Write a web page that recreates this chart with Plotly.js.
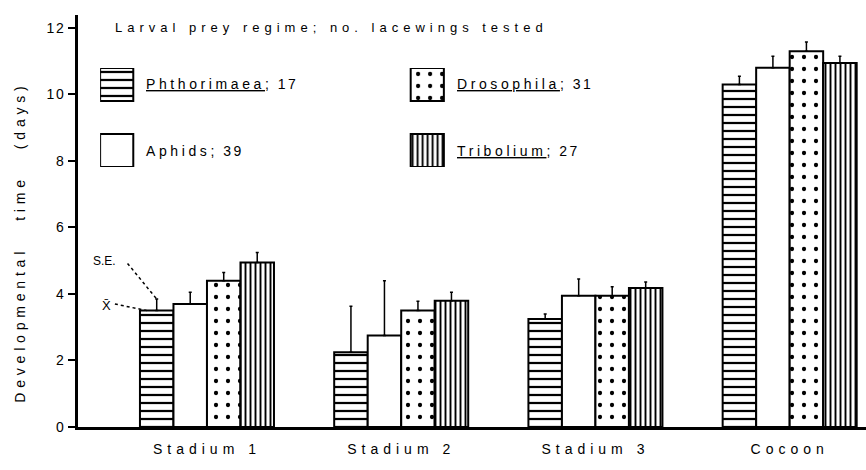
<!DOCTYPE html>
<html>
<head>
<meta charset="utf-8">
<script src="https://cdn.plot.ly/plotly-3.0.1.min.js"></script>
<style>
  html, body { margin: 0; padding: 0; background: #fff; }
  #chart { width: 866px; height: 470px; }
  .xtick text { letter-spacing: 5px; }
  .ytick text { letter-spacing: 1.5px; }
</style>
</head>
<body>
<div id="chart"></div>
<script>
// ---- data ----
const stages = ["Stadium 1", "Stadium 2", "Stadium 3", "Cocoon"];
const preyNames = ["Phthorimaea", "Aphids", "Drosophila", "Tribolium"];
const preyN = [17, 39, 31, 27];
const preyUnderlined = [true, false, true, true];

const meanPhthorimaea = [3.5, 2.25, 3.25, 10.3];
const sePhthorimaea   = [0.35, 1.38, 0.15, 0.25];
const meanAphids      = [3.7, 2.75, 3.95, 10.8];
const seAphids        = [0.35, 1.65, 0.5, 0.35];
const meanDrosophila  = [4.4, 3.5, 3.95, 11.3];
const seDrosophila    = [0.25, 0.28, 0.27, 0.28];
const meanTribolium   = [4.95, 3.8, 4.18, 10.95];
const seTribolium     = [0.3, 0.25, 0.18, 0.2];

const yTickVals = [0, 2, 4, 6, 8, 10, 12];
const titleText = "Larval prey regime; no. lacewings tested";
const yTitleWords = ["Developmental", "time", "(days)"];

// ---- styles ----
const means = [meanPhthorimaea, meanAphids, meanDrosophila, meanTribolium];
const ses = [sePhthorimaea, seAphids, seDrosophila, seTribolium];
const patterns = [
  {shape: "-", size: 8, solidity: 0.28, fgcolor: "#000", bgcolor: "#fff", fillmode: "replace"},
  {shape: "", fgcolor: "#000", bgcolor: "#fff"},
  {shape: ".", size: 12, solidity: 0.1, fgcolor: "#000", bgcolor: "#fff", fillmode: "replace"},
  {shape: "|", size: 5, solidity: 0.38, fgcolor: "#000", bgcolor: "#fff", fillmode: "replace"}
];
const FONT = "Liberation Sans, Arial, Helvetica, sans-serif";
const spaced = (t, px) => '<span style="letter-spacing:' + px + 'px">' + t + '</span>';

const traces = [];
preyNames.forEach((name, i) => {
  traces.push({
    type: "bar",
    name: name,
    x: stages,
    y: means[i],
    marker: {color: "#fff", pattern: patterns[i], line: {color: "#000", width: 2}},
    error_y: {
      type: "data", symmetric: false,
      array: ses[i], arrayminus: ses[i].map(() => 0),
      color: "#000", thickness: 1.5, width: 1.5
    },
    showlegend: false,
    hoverinfo: "skip"
  });
});

// legend swatches drawn as bars on a small helper axis (2 columns x 2 rows)
const swW = 0.1068;
const annotations = [];
preyNames.forEach((name, i) => {
  const col = Math.floor(i / 2);
  const row = i % 2;
  const base = row === 0 ? 2 : 0;
  traces.push({
    type: "bar",
    x: [col], y: [1], base: [base], width: [swW], offset: [-swW / 2],
    xaxis: "x2", yaxis: "y2",
    marker: {color: "#fff", pattern: patterns[i], line: {color: "#000", width: 2}},
    showlegend: false, hoverinfo: "skip"
  });
});

annotations.push({
  xref: "paper", yref: "paper", x: 0.0446, y: 0.969,
  xanchor: "left", yanchor: "middle", showarrow: false,
  text: spaced(titleText, 5), font: {family: FONT, size: 13, color: "#000"}
});
annotations.push({
  xref: "paper", yref: "paper", x: -0.074, y: 0.449,
  xanchor: "center", yanchor: "middle", showarrow: false, textangle: -90,
  text: spaced(yTitleWords.join("\u00a0\u00a0\u00a0"), 4.8),
  font: {family: FONT, size: 14, color: "#000"}
});
preyNames.forEach((name, i) => {
  const col = Math.floor(i / 2);
  const row = i % 2;
  const base = row === 0 ? 2 : 0;
  const label = preyUnderlined[i] ? "<u>" + spaced(name, 3.6) + "</u>" : spaced(name, 3.6);
  annotations.push({
    xref: "x2", yref: "y2", x: col + swW / 2 + 0.036, y: base + 0.5,
    xanchor: "left", yanchor: "middle", showarrow: false,
    text: label + spaced("; " + preyN[i], 2.5), font: {family: FONT, size: 14, color: "#000"}
  });
});
// S.E. and mean pointers for the first bar
const firstOffset = -0.259;
annotations.push({
  xref: "x", yref: "y", x: firstOffset - 0.27, y: 4.98,
  xanchor: "center", yanchor: "middle", showarrow: false,
  text: "S.E.", font: {family: FONT, size: 12, color: "#000"}
});
annotations.push({
  xref: "x", yref: "y", x: firstOffset - 0.26, y: 3.66,
  xanchor: "center", yanchor: "middle", showarrow: false,
  text: "X\u0304", font: {family: FONT, size: 13, color: "#000"}
});

const shapes = [
  {type: "line", xref: "x", yref: "y",
   x0: firstOffset - 0.15, y0: 4.92, x1: firstOffset, y1: meanPhthorimaea[0] + sePhthorimaea[0],
   line: {color: "#000", width: 1.5, dash: "dot"}},
  {type: "line", xref: "x", yref: "y",
   x0: firstOffset - 0.215, y0: 3.7, x1: firstOffset - 0.05, y1: meanPhthorimaea[0],
   line: {color: "#000", width: 1.5, dash: "dot"}}
];

const layout = {
  width: 866, height: 470,
  margin: {l: 78, r: 0, t: 15, b: 43},
  paper_bgcolor: "#fff", plot_bgcolor: "rgba(0,0,0,0)",
  barmode: "group", bargap: 0.31, bargroupgap: 0,
  font: {family: FONT, color: "#000"},
  xaxis: {
    type: "category", range: [-0.664, 3.393],
    showline: true, linecolor: "#000", linewidth: 2.5,
    ticks: "", showgrid: false, zeroline: false,
    tickfont: {family: FONT, size: 14, color: "#000"},
    ticklabelstandoff: 8, fixedrange: true
  },
  yaxis: {
    range: [0, 12.39], tickvals: yTickVals, ticktext: yTickVals.map(String),
    showline: true, linecolor: "#000", linewidth: 3,
    ticks: "outside", ticklen: 7, tickwidth: 2, tickcolor: "#000",
    showgrid: false, zeroline: false,
    tickfont: {family: FONT, size: 14, color: "#000"},
    ticklabelstandoff: 0, fixedrange: true
  },
  xaxis2: {
    domain: [0.02806, 0.8699], range: [-0.0534, 2.0825], anchor: "y2",
    visible: false, fixedrange: true
  },
  yaxis2: {
    domain: [0.631, 0.8714], range: [0, 3], anchor: "x2",
    visible: false, fixedrange: true
  },
  annotations: annotations,
  shapes: shapes,
  showlegend: false
};

Plotly.newPlot("chart", traces, layout, {displayModeBar: false, staticPlot: true});
</script>
</body>
</html>
